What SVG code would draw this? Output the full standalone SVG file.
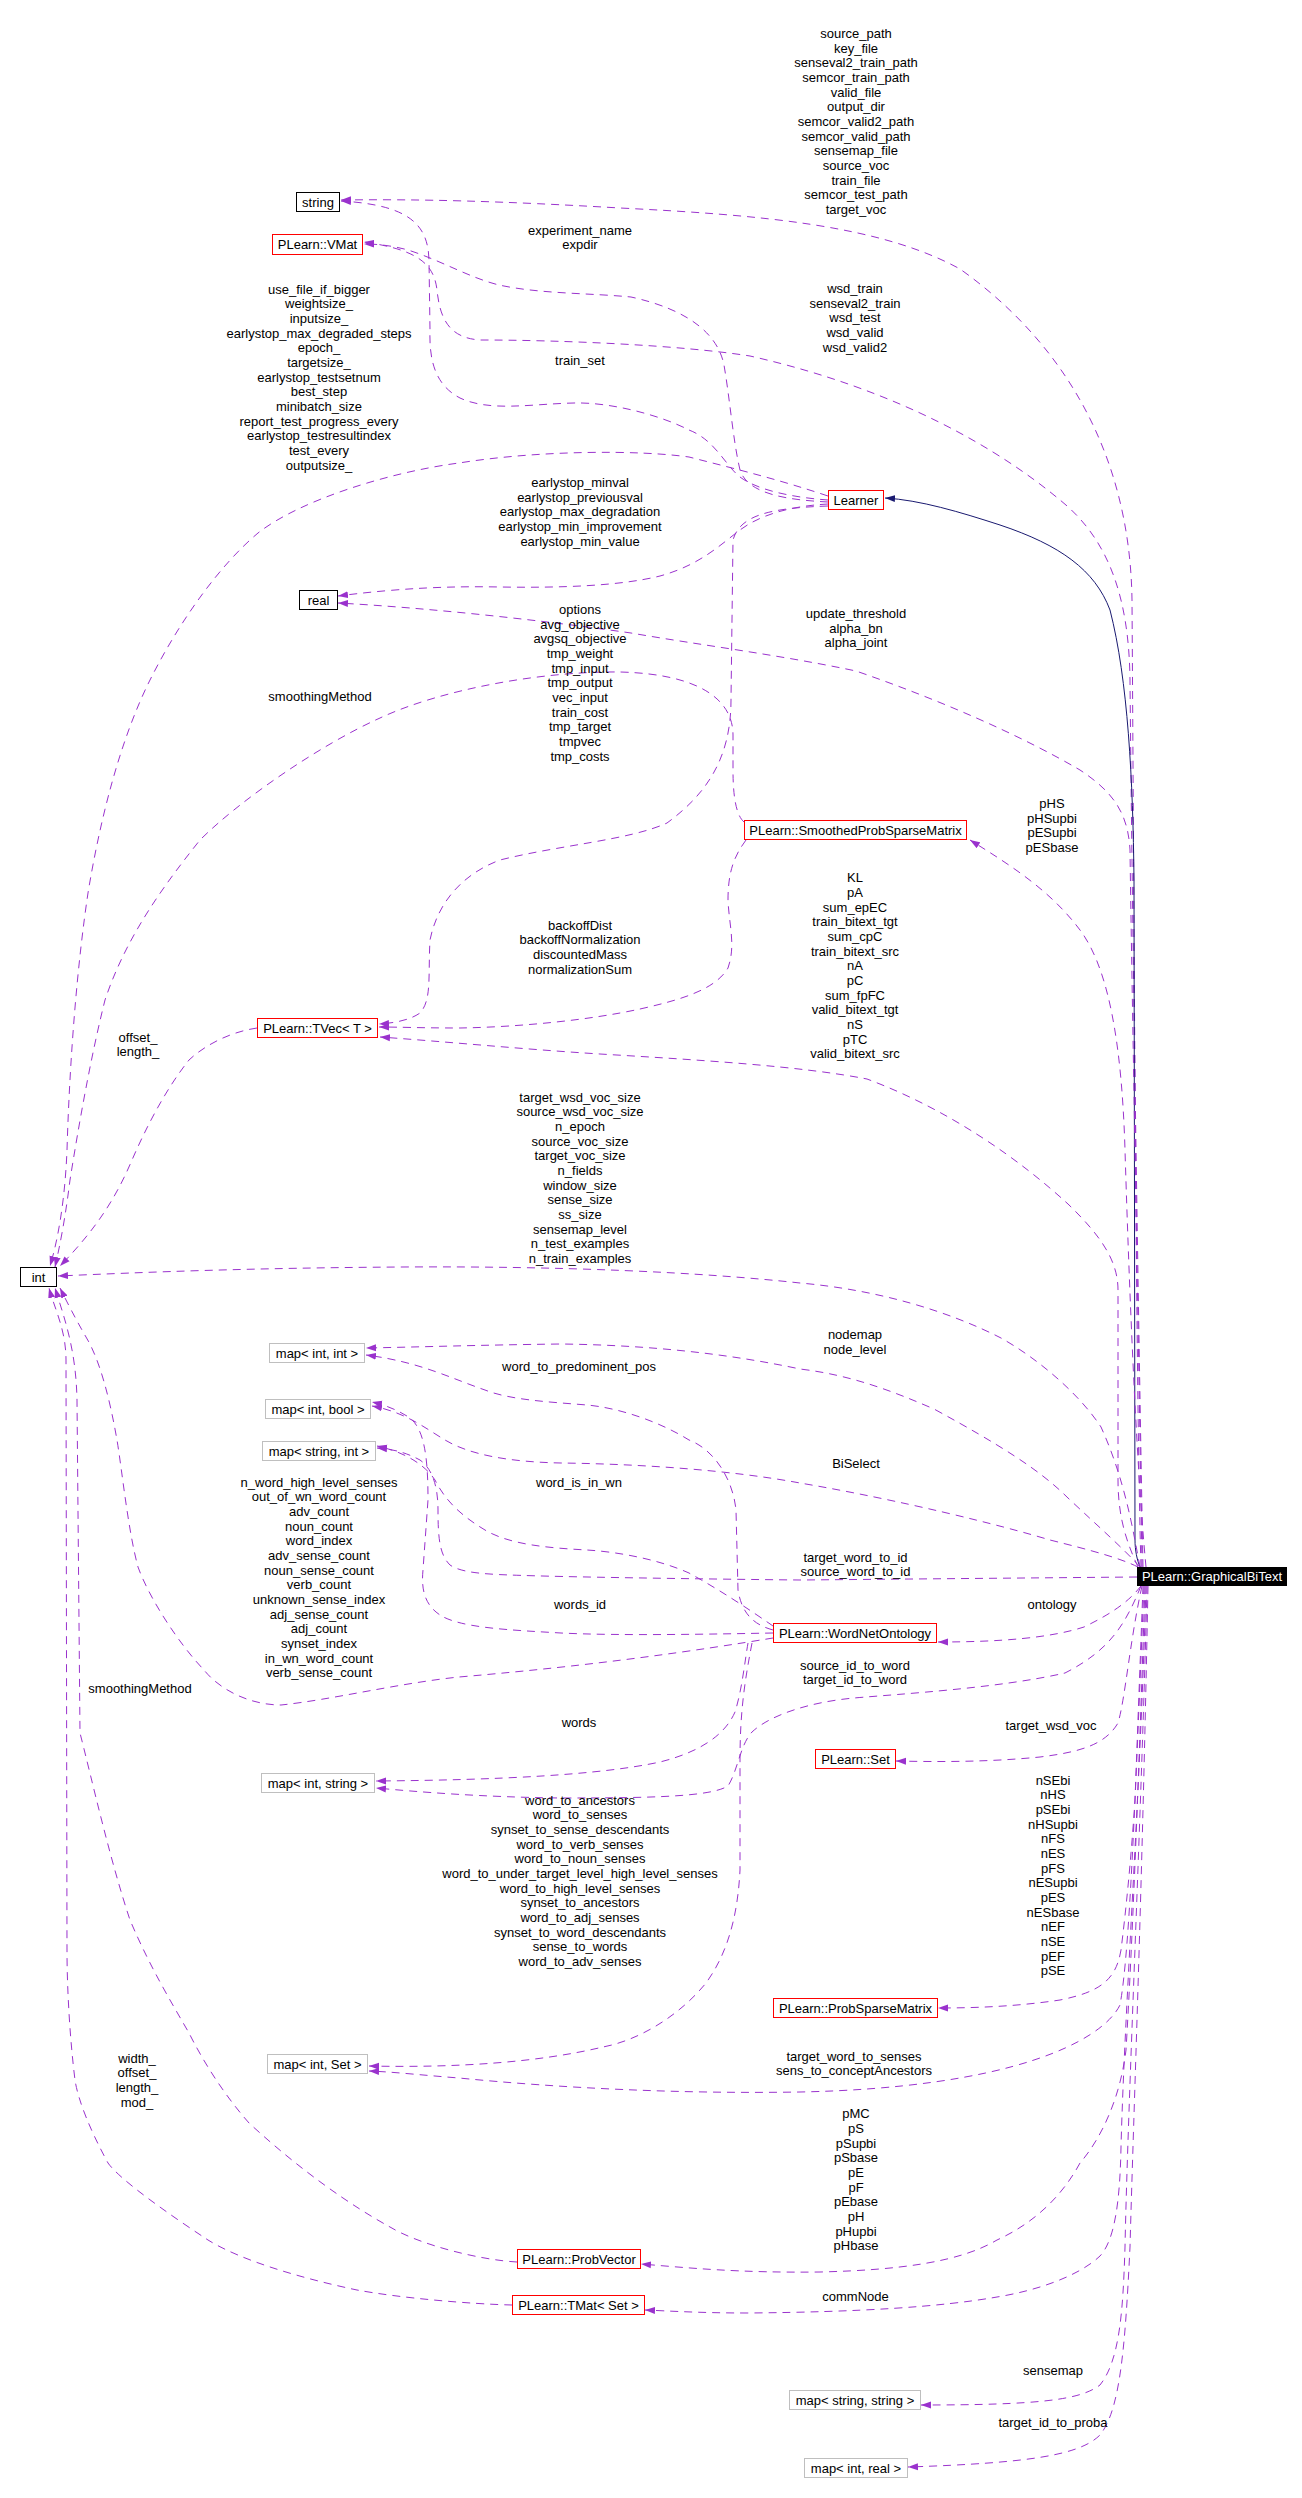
<svg xmlns="http://www.w3.org/2000/svg" width="1302" height="2498" viewBox="0 0 1302 2498">
<defs>
<style>
text{font-family:"Liberation Sans",Arial,sans-serif;font-size:13px;fill:#000;text-anchor:middle}
.e{fill:none;stroke:#9a32cd;stroke-width:1;stroke-dasharray:8,6;marker-end:url(#ap)}
.i{fill:none;stroke:#191970;stroke-width:1;marker-end:url(#an)}
.nb{fill:#fff;stroke:#000;stroke-width:1}
.nr{fill:#fff;stroke:#ff0000;stroke-width:1}
.ng{fill:#fff;stroke:#bfbfbf;stroke-width:1}
.nk{fill:#000;stroke:#000;stroke-width:1}
.w{fill:#fff}
</style>
<marker id="ap" markerUnits="userSpaceOnUse" markerWidth="11" markerHeight="8" refX="10" refY="4" orient="auto" viewBox="0 0 11 8"><path d="M0,0.5 L10,4 L0,7.5z" fill="#9a32cd"/></marker>
<marker id="an" markerUnits="userSpaceOnUse" markerWidth="11" markerHeight="8" refX="10" refY="4" orient="auto" viewBox="0 0 11 8"><path d="M0,0.5 L10,4 L0,7.5z" fill="#191970"/></marker>
</defs>
<rect width="1302" height="2498" fill="#fff"/>
<g id="edges">
<path class="e" d="M1141,1567 C1136,1400 1134,900 1132,600 C1130,450 1060,340 960,269 C880,225 760,215 620,208 C500,201 420,199 341,200"/>
<path class="e" d="M828,500 C800,498 760,492 740,477 C725,465 715,440 689,430 C660,415 610,402 574,403 C530,404 490,412 460,398 C435,385 429,360 430,330 L429,260 C428,225 410,205 341,201"/>
<path class="e" d="M828,502 C790,500 748,495 740,470 C733,440 730,400 724,365 C718,335 690,310 631,297 C590,293 540,294 499,285 C470,278 440,260 408,250 C390,245 375,244 364,244"/>
<path class="e" d="M1143,1567 C1138,1300 1132,900 1130,680 C1129,600 1110,540 1060,500 C1000,450 900,390 750,356 C680,345 560,340 480,340 C450,338 440,320 437,290 C434,265 420,250 364,242"/>
<path class="i" d="M1140,1567 C1137,1560 1135,1550 1135,1540 L1134,880 C1133,780 1128,680 1110,610 C1095,570 1060,545 1000,525 C960,512 920,500 885,498"/>
<path class="e" d="M828,496 C780,480 740,470 689,457 C640,450 540,450 459,463 C390,472 300,500 258,533 C220,565 180,620 150,680 C120,740 100,820 88,893 C78,960 70,1050 67,1150 C65,1200 58,1240 50,1266"/>
<path class="e" d="M828,504 C790,506 760,515 740,530 C720,545 700,565 660,576 C620,586 560,588 500,587 C450,586 400,588 338,596"/>
<path class="e" d="M1142,1567 C1138,1300 1132,1000 1130,850 C1128,810 1110,790 1080,770 C1020,735 940,700 856,671 C780,655 700,645 631,633 C540,620 430,608 338,603"/>
<path class="e" d="M828,506 C770,508 740,515 733,540 L731,700 C731,760 705,795 667,823 C630,840 560,845 500,860 C460,875 437,905 430,940 C428,975 432,1000 420,1013 C410,1020 395,1023 379,1024"/>
<path class="e" d="M744,822 C737,816 733,800 733,770 L733,735 C733,700 700,674 620,672 C540,671 440,690 380,718 C320,745 240,800 200,840 C160,890 125,940 105,1000 C90,1060 78,1130 70,1180 C65,1220 60,1245 55,1267"/>
<path class="e" d="M746,840 C735,855 728,870 728,900 C729,925 736,945 728,968 C715,990 680,1000 640,1009 C590,1020 520,1027 460,1028 C420,1028 400,1027 379,1027"/>
<path class="e" d="M1138,1567 C1128,1545 1118,1520 1118,1480 L1118,1290 C1118,1260 1100,1235 1068,1204 C1020,1160 950,1110 867,1079 C800,1066 700,1060 600,1054 C520,1049 450,1042 380,1037"/>
<path class="e" d="M1146,1567 C1135,1450 1128,1250 1125,1150 C1122,1050 1110,970 1080,930 C1050,890 1010,865 970,840"/>
<path class="e" d="M257,1028 C230,1032 205,1045 189,1060 C165,1090 145,1130 132,1160 C115,1200 95,1230 60,1266"/>
<path class="e" d="M1140,1567 C1133,1530 1125,1480 1101,1427 C1080,1395 1040,1360 1001,1338 C950,1312 880,1290 800,1283 C700,1272 560,1266 402,1267 C250,1268 150,1272 58,1276"/>
<path class="e" d="M1140,1567 C1125,1550 1100,1528 1068,1498 C1040,1470 1000,1445 934,1409 C890,1390 850,1375 800,1369 C720,1352 640,1345 561,1344 C480,1345 420,1347 366,1348"/>
<path class="e" d="M773,1630 C755,1625 742,1615 738,1590 L736,1510 C733,1480 715,1450 689,1440 C660,1422 620,1408 587,1405 C550,1402 510,1400 485,1390 C450,1378 420,1362 366,1355"/>
<path class="e" d="M1138,1567 C1120,1558 1090,1550 1050,1540 C1000,1525 900,1500 800,1483 C730,1470 640,1464 561,1463 C510,1462 470,1455 445,1440 C425,1428 405,1412 372,1406"/>
<path class="e" d="M773,1633 C720,1634 620,1636 561,1633 C510,1630 460,1628 440,1615 C425,1605 421,1590 423,1570 L428,1500 C428,1460 425,1430 410,1418 C398,1410 385,1405 372,1402"/>
<path class="e" d="M1137,1577 L800,1580 C700,1579 560,1577 510,1575 C480,1574 460,1572 450,1565 C440,1555 438,1540 438,1510 C438,1490 434,1470 420,1460 C405,1452 392,1449 377,1448"/>
<path class="e" d="M773,1626 C750,1610 720,1590 689,1573 C660,1560 620,1552 587,1550 C550,1548 510,1545 485,1530 C460,1515 445,1500 435,1480 C425,1465 405,1452 377,1446"/>
<path class="e" d="M1141,1586 C1130,1600 1115,1612 1084,1627 C1050,1638 1000,1642 938,1642"/>
<path class="e" d="M1141,1586 C1125,1625 1110,1650 1065,1673 C1000,1688 900,1694 854,1698 C810,1702 770,1715 752,1732 C740,1745 738,1770 728,1786 C710,1797 650,1798 560,1798 C480,1797 420,1792 376,1788"/>
<path class="e" d="M748,1643 C745,1660 742,1690 735,1712 C725,1735 700,1752 660,1762 C600,1775 500,1780 376,1781"/>
<path class="e" d="M752,1643 C745,1680 740,1710 740,1760 L740,1870 C738,1910 730,1950 706,1983 C680,2015 640,2040 603,2047 C540,2062 460,2068 369,2066"/>
<path class="e" d="M1142,1586 C1130,1640 1125,1700 1118,1723 C1105,1745 1080,1752 1040,1757 C990,1762 940,1762 896,1761"/>
<path class="e" d="M1143,1586 L1135,1800 C1131,1860 1126,1910 1121,1950 C1116,1980 1100,1992 1060,2000 C1020,2006 980,2008 938,2008"/>
<path class="e" d="M1144,1586 C1135,1800 1130,1950 1120,2005 C1110,2025 1080,2045 1034,2060 C980,2078 900,2090 800,2092 C680,2094 560,2088 459,2078 C420,2075 395,2072 369,2071"/>
<path class="e" d="M1145,1586 C1138,1800 1132,1950 1126,2050 C1120,2100 1100,2140 1080,2163 C1060,2200 1030,2225 997,2240 C960,2262 900,2270 820,2272 C740,2273 690,2268 641,2264"/>
<path class="e" d="M1146,1586 C1140,1800 1125,2000 1121,2147 C1120,2200 1115,2240 1100,2256 C1080,2275 1040,2290 997,2297 C940,2307 860,2312 748,2313 C700,2313 670,2311 645,2310"/>
<path class="e" d="M1147,1586 C1142,1800 1128,2100 1125,2247 C1123,2310 1120,2360 1100,2385 C1080,2400 1040,2405 921,2405"/>
<path class="e" d="M1148,1586 C1142,1900 1134,2100 1130,2247 C1125,2350 1120,2410 1100,2435 C1080,2455 1030,2463 908,2467"/>
<path class="e" d="M773,1638 C700,1650 600,1665 459,1677 C400,1683 330,1700 281,1705 C250,1705 220,1690 204,1670 C180,1645 150,1600 138,1567 C128,1530 122,1470 117,1440 C110,1400 100,1360 86,1337 C75,1318 66,1300 60,1288"/>
<path class="e" d="M517,2262 C480,2260 420,2245 390,2227 C350,2205 300,2170 249,2123 C220,2090 200,2055 189,2033 C170,2000 150,1967 130,1920 C110,1860 92,1780 80,1733 L77,1400 C76,1350 65,1320 55,1288"/>
<path class="e" d="M512,2305 C470,2304 400,2298 357,2290 C300,2278 240,2260 208,2240 C170,2215 120,2180 108,2163 C90,2130 78,2100 75,2080 C70,2040 67,1990 67,1950 L66,1360 C66,1330 55,1310 49,1288"/>
</g>
<g id="labels">
<text x="856" y="38"><tspan x="856">source_path</tspan><tspan x="856" dy="14.67">key_file</tspan><tspan x="856" dy="14.67">senseval2_train_path</tspan><tspan x="856" dy="14.67">semcor_train_path</tspan><tspan x="856" dy="14.67">valid_file</tspan><tspan x="856" dy="14.67">output_dir</tspan><tspan x="856" dy="14.67">semcor_valid2_path</tspan><tspan x="856" dy="14.67">semcor_valid_path</tspan><tspan x="856" dy="14.67">sensemap_file</tspan><tspan x="856" dy="14.67">source_voc</tspan><tspan x="856" dy="14.67">train_file</tspan><tspan x="856" dy="14.67">semcor_test_path</tspan><tspan x="856" dy="14.67">target_voc</tspan></text>
<text x="580" y="234.7"><tspan x="580">experiment_name</tspan><tspan x="580" dy="14.67">expdir</tspan></text>
<text x="319" y="293.7"><tspan x="319">use_file_if_bigger</tspan><tspan x="319" dy="14.67">weightsize_</tspan><tspan x="319" dy="14.67">inputsize_</tspan><tspan x="319" dy="14.67">earlystop_max_degraded_steps</tspan><tspan x="319" dy="14.67">epoch_</tspan><tspan x="319" dy="14.67">targetsize_</tspan><tspan x="319" dy="14.67">earlystop_testsetnum</tspan><tspan x="319" dy="14.67">best_step</tspan><tspan x="319" dy="14.67">minibatch_size</tspan><tspan x="319" dy="14.67">report_test_progress_every</tspan><tspan x="319" dy="14.67">earlystop_testresultindex</tspan><tspan x="319" dy="14.67">test_every</tspan><tspan x="319" dy="14.67">outputsize_</tspan></text>
<text x="855" y="293"><tspan x="855">wsd_train</tspan><tspan x="855" dy="14.67">senseval2_train</tspan><tspan x="855" dy="14.67">wsd_test</tspan><tspan x="855" dy="14.67">wsd_valid</tspan><tspan x="855" dy="14.67">wsd_valid2</tspan></text>
<text x="580" y="365">train_set</text>
<text x="580" y="487"><tspan x="580">earlystop_minval</tspan><tspan x="580" dy="14.67">earlystop_previousval</tspan><tspan x="580" dy="14.67">earlystop_max_degradation</tspan><tspan x="580" dy="14.67">earlystop_min_improvement</tspan><tspan x="580" dy="14.67">earlystop_min_value</tspan></text>
<text x="580" y="614"><tspan x="580">options</tspan><tspan x="580" dy="14.67">avg_objective</tspan><tspan x="580" dy="14.67">avgsq_objective</tspan><tspan x="580" dy="14.67">tmp_weight</tspan><tspan x="580" dy="14.67">tmp_input</tspan><tspan x="580" dy="14.67">tmp_output</tspan><tspan x="580" dy="14.67">vec_input</tspan><tspan x="580" dy="14.67">train_cost</tspan><tspan x="580" dy="14.67">tmp_target</tspan><tspan x="580" dy="14.67">tmpvec</tspan><tspan x="580" dy="14.67">tmp_costs</tspan></text>
<text x="856" y="618"><tspan x="856">update_threshold</tspan><tspan x="856" dy="14.67">alpha_bn</tspan><tspan x="856" dy="14.67">alpha_joint</tspan></text>
<text x="320" y="700.7">smoothingMethod</text>
<text x="1052" y="808"><tspan x="1052">pHS</tspan><tspan x="1052" dy="14.67">pHSupbi</tspan><tspan x="1052" dy="14.67">pESupbi</tspan><tspan x="1052" dy="14.67">pESbase</tspan></text>
<text x="855" y="882.3"><tspan x="855">KL</tspan><tspan x="855" dy="14.67">pA</tspan><tspan x="855" dy="14.67">sum_epEC</tspan><tspan x="855" dy="14.67">train_bitext_tgt</tspan><tspan x="855" dy="14.67">sum_cpC</tspan><tspan x="855" dy="14.67">train_bitext_src</tspan><tspan x="855" dy="14.67">nA</tspan><tspan x="855" dy="14.67">pC</tspan><tspan x="855" dy="14.67">sum_fpFC</tspan><tspan x="855" dy="14.67">valid_bitext_tgt</tspan><tspan x="855" dy="14.67">nS</tspan><tspan x="855" dy="14.67">pTC</tspan><tspan x="855" dy="14.67">valid_bitext_src</tspan></text>
<text x="580" y="929.7"><tspan x="580">backoffDist</tspan><tspan x="580" dy="14.67">backoffNormalization</tspan><tspan x="580" dy="14.67">discountedMass</tspan><tspan x="580" dy="14.67">normalizationSum</tspan></text>
<text x="138" y="1041.7"><tspan x="138">offset_</tspan><tspan x="138" dy="14.67">length_</tspan></text>
<text x="580" y="1101.7"><tspan x="580">target_wsd_voc_size</tspan><tspan x="580" dy="14.67">source_wsd_voc_size</tspan><tspan x="580" dy="14.67">n_epoch</tspan><tspan x="580" dy="14.67">source_voc_size</tspan><tspan x="580" dy="14.67">target_voc_size</tspan><tspan x="580" dy="14.67">n_fields</tspan><tspan x="580" dy="14.67">window_size</tspan><tspan x="580" dy="14.67">sense_size</tspan><tspan x="580" dy="14.67">ss_size</tspan><tspan x="580" dy="14.67">sensemap_level</tspan><tspan x="580" dy="14.67">n_test_examples</tspan><tspan x="580" dy="14.67">n_train_examples</tspan></text>
<text x="855" y="1339"><tspan x="855">nodemap</tspan><tspan x="855" dy="14.67">node_level</tspan></text>
<text x="579" y="1370.7">word_to_predominent_pos</text>
<text x="856" y="1468">BiSelect</text>
<text x="579" y="1486.7">word_is_in_wn</text>
<text x="319" y="1486.7"><tspan x="319">n_word_high_level_senses</tspan><tspan x="319" dy="14.67">out_of_wn_word_count</tspan><tspan x="319" dy="14.67">adv_count</tspan><tspan x="319" dy="14.67">noun_count</tspan><tspan x="319" dy="14.67">word_index</tspan><tspan x="319" dy="14.67">adv_sense_count</tspan><tspan x="319" dy="14.67">noun_sense_count</tspan><tspan x="319" dy="14.67">verb_count</tspan><tspan x="319" dy="14.67">unknown_sense_index</tspan><tspan x="319" dy="14.67">adj_sense_count</tspan><tspan x="319" dy="14.67">adj_count</tspan><tspan x="319" dy="14.67">synset_index</tspan><tspan x="319" dy="14.67">in_wn_word_count</tspan><tspan x="319" dy="14.67">verb_sense_count</tspan></text>
<text x="855.5" y="1561.7"><tspan x="855.5">target_word_to_id</tspan><tspan x="855.5" dy="14.67">source_word_to_id</tspan></text>
<text x="580" y="1608.7">words_id</text>
<text x="1052" y="1609">ontology</text>
<text x="855" y="1669.7"><tspan x="855">source_id_to_word</tspan><tspan x="855" dy="14.67">target_id_to_word</tspan></text>
<text x="140" y="1692.7">smoothingMethod</text>
<text x="579" y="1726.7">words</text>
<text x="1051" y="1729.7">target_wsd_voc</text>
<text x="1053" y="1784.7"><tspan x="1053">nSEbi</tspan><tspan x="1053" dy="14.67">nHS</tspan><tspan x="1053" dy="14.67">pSEbi</tspan><tspan x="1053" dy="14.67">nHSupbi</tspan><tspan x="1053" dy="14.67">nFS</tspan><tspan x="1053" dy="14.67">nES</tspan><tspan x="1053" dy="14.67">pFS</tspan><tspan x="1053" dy="14.67">nESupbi</tspan><tspan x="1053" dy="14.67">pES</tspan><tspan x="1053" dy="14.67">nESbase</tspan><tspan x="1053" dy="14.67">nEF</tspan><tspan x="1053" dy="14.67">nSE</tspan><tspan x="1053" dy="14.67">pEF</tspan><tspan x="1053" dy="14.67">pSE</tspan></text>
<text x="580" y="1804.7"><tspan x="580">word_to_ancestors</tspan><tspan x="580" dy="14.67">word_to_senses</tspan><tspan x="580" dy="14.67">synset_to_sense_descendants</tspan><tspan x="580" dy="14.67">word_to_verb_senses</tspan><tspan x="580" dy="14.67">word_to_noun_senses</tspan><tspan x="580" dy="14.67">word_to_under_target_level_high_level_senses</tspan><tspan x="580" dy="14.67">word_to_high_level_senses</tspan><tspan x="580" dy="14.67">synset_to_ancestors</tspan><tspan x="580" dy="14.67">word_to_adj_senses</tspan><tspan x="580" dy="14.67">synset_to_word_descendants</tspan><tspan x="580" dy="14.67">sense_to_words</tspan><tspan x="580" dy="14.67">word_to_adv_senses</tspan></text>
<text x="854" y="2060.7"><tspan x="854">target_word_to_senses</tspan><tspan x="854" dy="14.67">sens_to_conceptAncestors</tspan></text>
<text x="137" y="2062.7"><tspan x="137">width_</tspan><tspan x="137" dy="14.67">offset_</tspan><tspan x="137" dy="14.67">length_</tspan><tspan x="137" dy="14.67">mod_</tspan></text>
<text x="856" y="2118.3"><tspan x="856">pMC</tspan><tspan x="856" dy="14.67">pS</tspan><tspan x="856" dy="14.67">pSupbi</tspan><tspan x="856" dy="14.67">pSbase</tspan><tspan x="856" dy="14.67">pE</tspan><tspan x="856" dy="14.67">pF</tspan><tspan x="856" dy="14.67">pEbase</tspan><tspan x="856" dy="14.67">pH</tspan><tspan x="856" dy="14.67">pHupbi</tspan><tspan x="856" dy="14.67">pHbase</tspan></text>
<text x="855.5" y="2301">commNode</text>
<text x="1053" y="2375">sensemap</text>
<text x="1053" y="2426.7">target_id_to_proba</text>
</g>
<g id="n_string"><rect class="nb" x="296.5" y="192.5" width="43" height="19"/><text x="318" y="206.5">string</text></g>
<g id="n_vmat"><rect class="nr" x="272.5" y="234.5" width="90" height="20"/><text x="317.5" y="249">PLearn::VMat</text></g>
<g id="n_learner"><rect class="nr" x="828.5" y="490.5" width="55" height="19"/><text x="856" y="504.5">Learner</text></g>
<g id="n_real"><rect class="nb" x="299.5" y="590.5" width="38" height="19"/><text x="318.5" y="604.5">real</text></g>
<g id="n_spsm"><rect class="nr" x="744.5" y="820.5" width="222" height="19"/><text x="855.5" y="834.5">PLearn::SmoothedProbSparseMatrix</text></g>
<g id="n_tvec"><rect class="nr" x="257.5" y="1018.5" width="120" height="19"/><text x="317.5" y="1032.5">PLearn::TVec&lt; T &gt;</text></g>
<g id="n_int"><rect class="nb" x="20.5" y="1267.5" width="36" height="19"/><text x="38.5" y="1281.5">int</text></g>
<g id="n_mapii"><rect class="ng" x="269.5" y="1343.5" width="95" height="19"/><text x="317" y="1357.5">map&lt; int, int &gt;</text></g>
<g id="n_mapib"><rect class="ng" x="265.5" y="1399.5" width="105" height="19"/><text x="318" y="1413.5">map&lt; int, bool &gt;</text></g>
<g id="n_mapsi"><rect class="ng" x="262.5" y="1441.5" width="113" height="19"/><text x="319" y="1455.5">map&lt; string, int &gt;</text></g>
<g id="n_wno"><rect class="nr" x="773.5" y="1623.5" width="163" height="19"/><text x="855" y="1637.5">PLearn::WordNetOntology</text></g>
<g id="n_gbt"><rect class="nk" x="1137.5" y="1567.5" width="149" height="18"/><text class="w" x="1212" y="1581">PLearn::GraphicalBiText</text></g>
<g id="n_set"><rect class="nr" x="815.5" y="1749.5" width="80" height="19"/><text x="855.5" y="1763.5">PLearn::Set</text></g>
<g id="n_mapis"><rect class="ng" x="261.5" y="1773.5" width="113" height="19"/><text x="318" y="1787.5">map&lt; int, string &gt;</text></g>
<g id="n_psm"><rect class="nr" x="773.5" y="1998.5" width="164" height="19"/><text x="855.5" y="2012.5">PLearn::ProbSparseMatrix</text></g>
<g id="n_mapiset"><rect class="ng" x="267.5" y="2054.5" width="100" height="19"/><text x="317.5" y="2068.5">map&lt; int, Set &gt;</text></g>
<g id="n_probvec"><rect class="nr" x="517.5" y="2249.5" width="123" height="19"/><text x="579" y="2263.5">PLearn::ProbVector</text></g>
<g id="n_tmat"><rect class="nr" x="512.5" y="2295.5" width="132" height="19"/><text x="578.5" y="2309.5">PLearn::TMat&lt; Set &gt;</text></g>
<g id="n_mapss"><rect class="ng" x="789.5" y="2390.5" width="131" height="19"/><text x="855" y="2404.5">map&lt; string, string &gt;</text></g>
<g id="n_mapir"><rect class="ng" x="804.5" y="2458.5" width="103" height="19"/><text x="856" y="2472.5">map&lt; int, real &gt;</text></g>
</svg>
